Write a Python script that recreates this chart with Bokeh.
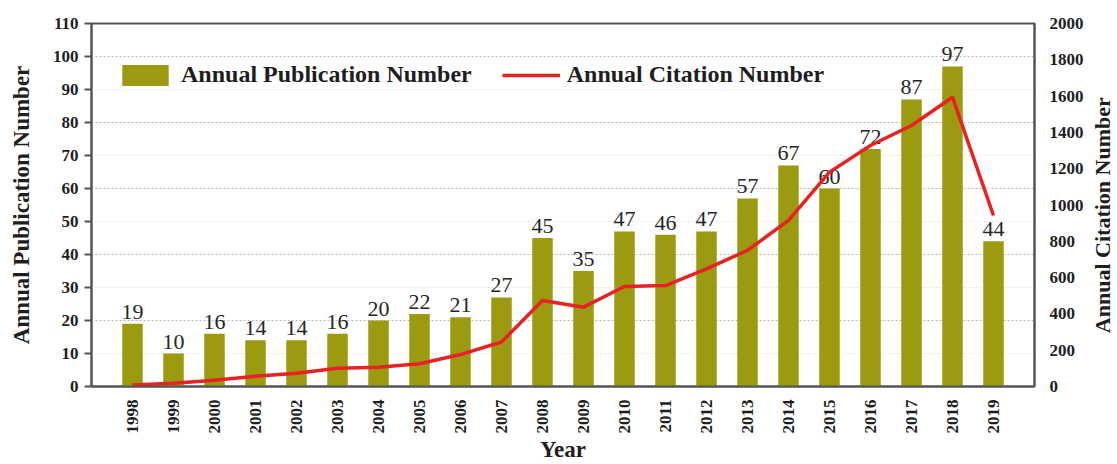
import math
from bokeh.plotting import figure
from bokeh.layouts import row
from bokeh.models import (Range1d, LinearAxis, FixedTicker, Legend, LegendItem,
                          ColumnDataSource, Label)
from bokeh.core.properties import value
from bokeh.embed import file_html
from bokeh.resources import INLINE

years = ["1998", "1999", "2000", "2001", "2002", "2003", "2004", "2005", "2006", "2007", "2008",
         "2009", "2010", "2011", "2012", "2013", "2014", "2015", "2016", "2017", "2018", "2019"]
publications = [19, 10, 16, 14, 14, 16, 20, 22, 21, 27, 45, 35, 47, 46, 47, 57, 67, 60, 72, 87, 97, 44]
citations = [8, 18, 35, 57, 73, 100, 106, 125, 176, 245, 474, 437, 551, 556, 648, 750, 915, 1181,
             1328, 1438, 1594, 942]
left_ticks = [0, 10, 20, 30, 40, 50, 60, 70, 80, 90, 100, 110]
right_ticks = [0, 200, 400, 600, 800, 1000, 1200, 1400, 1600, 1800, 2000]

idx = list(range(len(years)))
src = ColumnDataSource(dict(x=idx, pub=publications, cit=citations,
                            lbl=[str(v) for v in publications]))

FONT = "Liberation Serif"
AX = "#555555"
TXT = "#1e1e1e"

p = figure(width=1086, height=464, output_backend="svg", toolbar_location=None,
           x_range=Range1d(-1, 22), y_range=Range1d(0, 110),
           min_border_left=91, min_border_right=51, min_border_top=23, min_border_bottom=78)
p.extra_y_ranges = {"cit": Range1d(0, 2000)}

p.outline_line_color = AX
p.outline_line_width = 2
p.xgrid.grid_line_color = None
p.ygrid.ticker = FixedTicker(ticks=[20, 40, 60, 80, 100], minor_ticks=[10, 30, 50, 70, 90])
p.ygrid.grid_line_color = "#b5b5b5"
p.ygrid.grid_line_dash = "2 2"
p.ygrid.minor_grid_line_color = "#e2e2e2"
p.ygrid.minor_grid_line_dash = "2 2"

bars = p.vbar(x="x", top="pub", width=0.5, source=src, fill_color="#9B9A10", line_color=None)
p.text(x="x", y="pub", text="lbl", source=src, text_align="center", text_baseline="bottom",
       y_offset=-5, text_font=value(FONT), text_font_size="22px", text_color="#262626")
line = p.line(x="x", y="cit", source=src, y_range_name="cit", line_color="#E82222", line_width=3.5)

# bottom axis
xa = p.xaxis[0]
xa.ticker = FixedTicker(ticks=idx)
xa.major_label_overrides = {i: y for i, y in zip(idx, years)}
xa.major_label_orientation = math.pi / 2
xa.major_tick_line_color = None
xa.minor_tick_line_color = None
xa.axis_line_color = AX
xa.axis_line_width = 2
xa.major_label_text_font = FONT
xa.major_label_text_font_style = "bold"
xa.major_label_text_font_size = "17px"
xa.major_label_text_color = TXT
xa.major_label_standoff = 7
xa.axis_label = "Year"
xa.axis_label_text_font = FONT
xa.axis_label_text_font_style = "bold"
xa.axis_label_text_font_size = "23px"
xa.axis_label_text_color = TXT
xa.axis_label_standoff = 0

# left axis
ya = p.yaxis[0]
ya.ticker = FixedTicker(ticks=left_ticks)
ya.axis_line_color = AX
ya.axis_line_width = 2
ya.major_tick_line_color = AX
ya.major_tick_line_width = 2
ya.major_tick_out = 7
ya.major_tick_in = 0
ya.minor_tick_line_color = None
ya.major_label_text_font = FONT
ya.major_label_text_font_style = "bold"
ya.major_label_text_font_size = "17px"
ya.major_label_text_color = TXT
ya.major_label_standoff = 6
ya.axis_label = "Annual Publication Number"
ya.axis_label_text_font = FONT
ya.axis_label_text_font_style = "bold"
ya.axis_label_text_font_size = "23px"
ya.axis_label_text_color = TXT
ya.axis_label_standoff = 16

# right axis
ra = LinearAxis(y_range_name="cit", ticker=FixedTicker(ticks=right_ticks))
ra.axis_line_color = AX
ra.axis_line_width = 2
ra.major_tick_line_color = None
ra.minor_tick_line_color = None
ra.major_label_text_font = FONT
ra.major_label_text_font_style = "bold"
ra.major_label_text_font_size = "17px"
ra.major_label_text_color = TXT
ra.major_label_standoff = 9
p.add_layout(ra, "right")

legend = Legend(items=[LegendItem(label="Annual Publication Number", renderers=[bars]),
                       LegendItem(label="Annual Citation Number", renderers=[line])],
                orientation="horizontal", location=(25, 298))
legend.padding = 0
legend.margin = 0
legend.spacing = 30
legend.glyph_width = 58
legend.glyph_height = 26
legend.label_standoff = 7
legend.label_text_font = FONT
legend.label_text_font_style = "bold"
legend.label_text_font_size = "24px"
legend.label_text_color = TXT
legend.background_fill_alpha = 0
legend.border_line_color = None
p.add_layout(legend)

# narrow strip holding the right-hand axis title (reads bottom-to-top)
strip = figure(width=30, height=464, output_backend="svg", toolbar_location=None,
               x_range=Range1d(0, 30), y_range=Range1d(0, 464),
               x_axis_type=None, y_axis_type=None,
               min_border_left=0, min_border_right=0, min_border_top=0, min_border_bottom=0)
strip.outline_line_color = None
strip.xgrid.grid_line_color = None
strip.ygrid.grid_line_color = None
strip.add_layout(Label(x=16, y=219, text="Annual Citation Number", angle=math.pi / 2,
                       text_align="center", text_baseline="middle",
                       text_font=FONT, text_font_style="bold", text_font_size="22px",
                       text_color=TXT))

layout = row(p, strip, spacing=0)
open("out.html", "w").write(file_html(layout, INLINE))
